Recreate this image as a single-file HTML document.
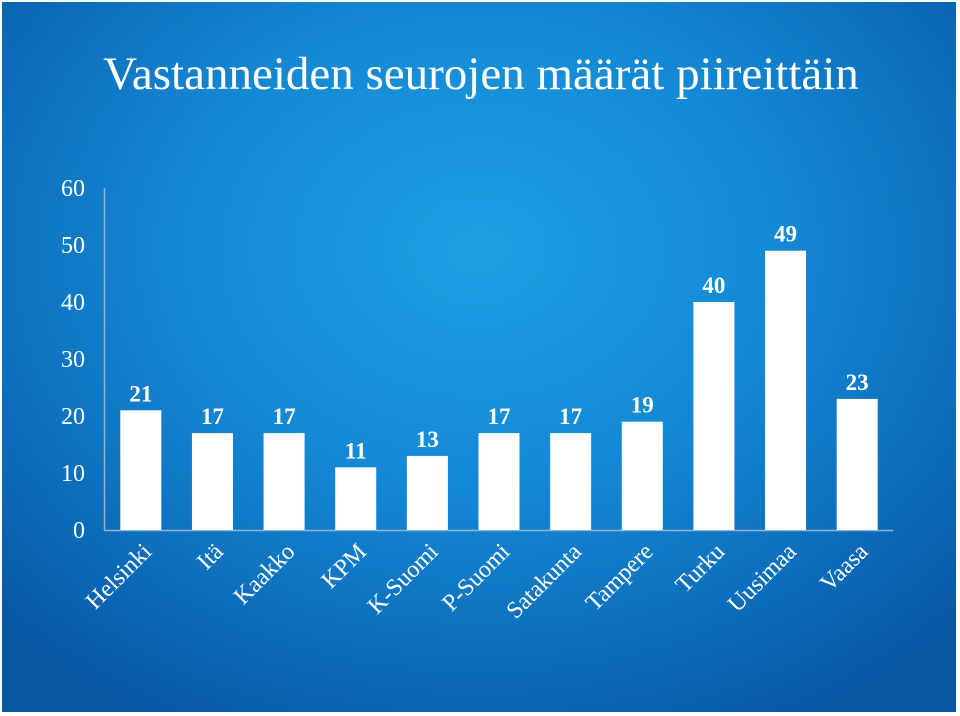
<!DOCTYPE html>
<html><head><meta charset="utf-8"><style>
html,body{margin:0;padding:0;}
body{width:960px;height:716px;overflow:hidden;background:#fff;}
#bg{position:absolute;left:2px;top:2px;width:954px;height:710px;
background:radial-gradient(ellipse 70% 75% at 50% 35%,#1da0e4 0%,#1488d4 45%,#0b6ab8 80%,#0858a4 100%);}
svg{position:absolute;left:0;top:0;}
text{font-family:"Liberation Serif",serif;fill:#fff;}
</style></head><body>
<div id="bg"></div>
<svg width="960" height="716" id="chart">
<text x="481" y="89" text-anchor="middle" font-size="47">Vastanneiden seurojen määrät piireittäin</text>
<line x1="104.5" y1="188" x2="104.5" y2="530" stroke="#8fb4d8" stroke-width="1.5"/>
<line x1="104" y1="530.5" x2="893" y2="530.5" stroke="#8fb4d8" stroke-width="1.5"/>
<g id="ticks"></g><g id="bars"></g>
</svg>
<script>
const categories=["Helsinki","Itä","Kaakko","KPM","K-Suomi","P-Suomi","Satakunta","Tampere","Turku","Uusimaa","Vaasa"];
const values=[21,17,17,11,13,17,17,19,40,49,23];
const tickLabels=[0,10,20,30,40,50,60];
const NS="http://www.w3.org/2000/svg";
const x0=105,x1=893,y0=530,yTop=188,yMax=60;
const band=(x1-x0)/categories.length,bw=41;
function yScale(v){return y0-(v/yMax)*(y0-yTop);}
function xCenter(i){return x0+band*(i+0.5);}
const tg=document.getElementById('ticks');
tickLabels.forEach(t=>{
 const e=document.createElementNS(NS,'text');
 
 
 e.setAttribute('x',85);e.setAttribute('y',yScale(t)+8);
 e.setAttribute('text-anchor','end');e.setAttribute('font-size','24');
 e.textContent=t;tg.appendChild(e);
});
const bg=document.getElementById('bars');
categories.forEach((c,i)=>{
 const cx=xCenter(i),y=yScale(values[i]);
 const r=document.createElementNS(NS,'rect');
 
 
 r.setAttribute('x',cx-bw/2);r.setAttribute('y',y);
 r.setAttribute('width',bw);r.setAttribute('height',y0-y);
 r.setAttribute('fill','#fff');bg.appendChild(r);
 const v=document.createElementNS(NS,'text');
 
 
 v.setAttribute('x',cx);v.setAttribute('y',y-9);
 v.setAttribute('text-anchor','middle');v.setAttribute('font-size','23');
 v.setAttribute('font-weight','bold');
 v.textContent=values[i];bg.appendChild(v);
 const l=document.createElementNS(NS,'text');
 
 
 l.setAttribute('text-anchor','end');l.setAttribute('font-size','24');
 l.setAttribute('transform','translate('+(cx+12)+',553) rotate(-45)');
 l.textContent=c;bg.appendChild(l);
});
</script>
</body></html>
